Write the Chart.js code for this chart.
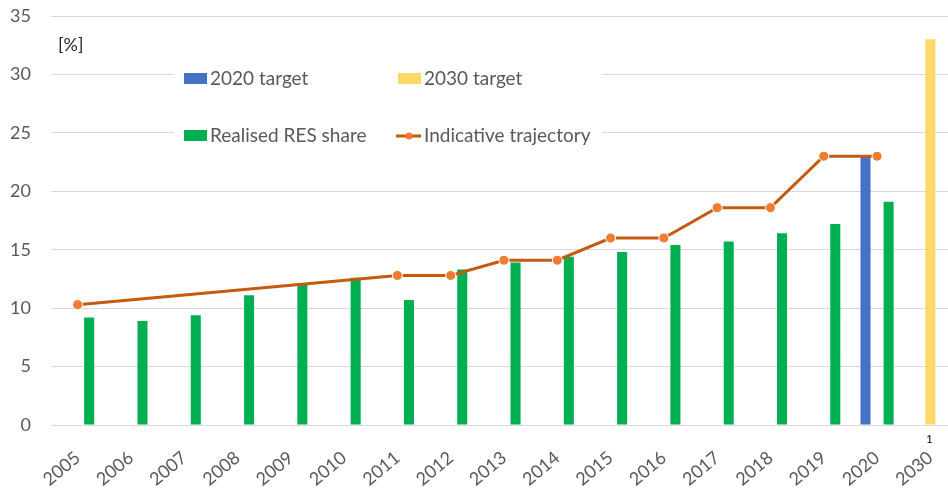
<!DOCTYPE html>
<html lang="en">

<head>
    <meta charset="UTF-8">
    <title>RES share</title>
    <script src="https://cdn.jsdelivr.net/npm/chart.js"></script>
    <style>
        html, body {
            margin: 0;
            padding: 0;
            overflow: hidden;
            background: #fff;
        }

        /* a bit wider than the window: the original plot runs past the right edge */
        #wrap {
            position: relative;
            width: 963px;
            height: 489px;
        }
    </style>
</head>

<body>
    <div id="wrap">
        <canvas id="myChart"></canvas>
    </div>

    <script>
        // data
        const years = ['2005', '2006', '2007', '2008', '2009', '2010', '2011', '2012', '2013', '2014',
            '2015', '2016', '2017', '2018', '2019', '2020', '2030'];
        const target2020 = [null, null, null, null, null, null, null, null, null, null,
            null, null, null, null, null, 23, null];
        const target2030 = [null, null, null, null, null, null, null, null, null, null,
            null, null, null, null, null, null, 33];
        const realisedShare = [9.2, 8.9, 9.4, 11.1, 12.1, 12.6, 10.7, 13.3, 13.9, 14.4,
            14.8, 15.4, 15.7, 16.4, 17.2, 19.1, null];
        const trajectory = [10.3, null, null, null, null, null, 12.8, 12.8, 14.1, 14.1,
            16.0, 16.0, 18.6, 18.6, 23, 23, null];
        const yTicks = [0, 5, 10, 15, 20, 25, 30, 35];

        const FONT = 'Lato, "Open Sans", sans-serif';
        const GREY = '#595959';

        // legend drawn inside the plot, like the original
        const insideLegend = {
            id: 'insideLegend',
            afterDraw(chart) {
                const ctx = chart.ctx;
                const ds = chart.data.datasets;
                const slots = [[184, 78], [398, 78], [184, 135], [398, 135]];
                ctx.save();
                ctx.fillStyle = '#fff';
                ctx.fillRect(174, 60, 428, 92);
                ctx.font = '19px ' + FONT;
                ctx.textBaseline = 'middle';
                ds.forEach((d, i) => {
                    const [x, y] = slots[i];
                    if (d.type === 'line') {
                        ctx.strokeStyle = d.borderColor;
                        ctx.lineWidth = 3;
                        ctx.beginPath();
                        ctx.moveTo(x - 2, y + 1);
                        ctx.lineTo(x + 23, y + 1);
                        ctx.stroke();
                        ctx.fillStyle = d.pointBackgroundColor;
                        ctx.beginPath();
                        ctx.arc(x + 11, y + 1, 3.5, 0, Math.PI * 2);
                        ctx.fill();
                    } else {
                        ctx.fillStyle = d.backgroundColor;
                        ctx.fillRect(x, y - 5, 23, 11);
                    }
                    ctx.fillStyle = GREY;
                    ctx.fillText(d.label, x + 26, y + 1);
                });

                // unit label and footnote marker
                ctx.fillStyle = '#262626';
                ctx.font = '18px ' + FONT;
                ctx.fillText('[%]', 58, 45);
                ctx.font = '11px ' + FONT;
                ctx.fillStyle = '#000';
                ctx.textAlign = 'center';
                const xs = chart.scales.x;
                ctx.fillText('1', xs.getPixelForValue(years.length - 1) - 1, 439);
                ctx.restore();
            }
        };

        const ctx = document.getElementById('myChart').getContext('2d');
        const myChart = new Chart(ctx, {
            type: 'bar',
            data: {
                labels: years,
                datasets: [{
                    label: '2020 target',
                    data: target2020,
                    backgroundColor: '#4472C4',
                    order: 1
                }, {
                    label: '2030 target',
                    data: target2030,
                    backgroundColor: '#FFD966',
                    order: 1
                }, {
                    label: 'Realised RES share',
                    data: realisedShare,
                    backgroundColor: '#00B050',
                    order: 1
                }, {
                    type: 'line',
                    label: 'Indicative trajectory',
                    data: trajectory,
                    borderColor: '#C55A11',
                    borderWidth: 3,
                    pointBackgroundColor: '#ED7D31',
                    pointBorderColor: '#fff',
                    pointBorderWidth: 1,
                    pointRadius: 5,
                    spanGaps: true,
                    tension: 0,
                    order: 0
                }]
            },
            options: {
                responsive: true,
                maintainAspectRatio: false,
                animation: false,
                categoryPercentage: 0.65,
                barPercentage: 0.87,
                layout: {
                    padding: { left: 0, top: 16, right: 0, bottom: 0 }
                },
                plugins: {
                    legend: { display: false },
                    tooltip: { enabled: false }
                },
                scales: {
                    x: {
                        grid: { display: false, drawTicks: false },
                        border: { color: '#D9D9D9' },
                        ticks: {
                            color: GREY,
                            font: { family: FONT, size: 18 },
                            minRotation: 40,
                            maxRotation: 40,
                            autoSkip: false,
                            padding: 22
                        },
                        afterFit: s => {
                            s.height = 64;
                            s.paddingLeft = 0;
                            s.paddingRight = 0;
                        }
                    },
                    y: {
                        min: 0,
                        max: 35,
                        afterBuildTicks: axis => {
                            axis.ticks = yTicks.map(v => ({ value: v }));
                        },
                        grid: { color: '#D9D9D9', drawTicks: false },
                        border: { display: false },
                        ticks: {
                            color: GREY,
                            font: { family: FONT, size: 18 },
                            padding: 20
                        },
                        afterFit: s => {
                            s.width = 51;
                            s.paddingTop = 0;
                            s.paddingBottom = 0;
                        }
                    }
                }
            },
            plugins: [insideLegend]
        });
    </script>
</body>

</html>
